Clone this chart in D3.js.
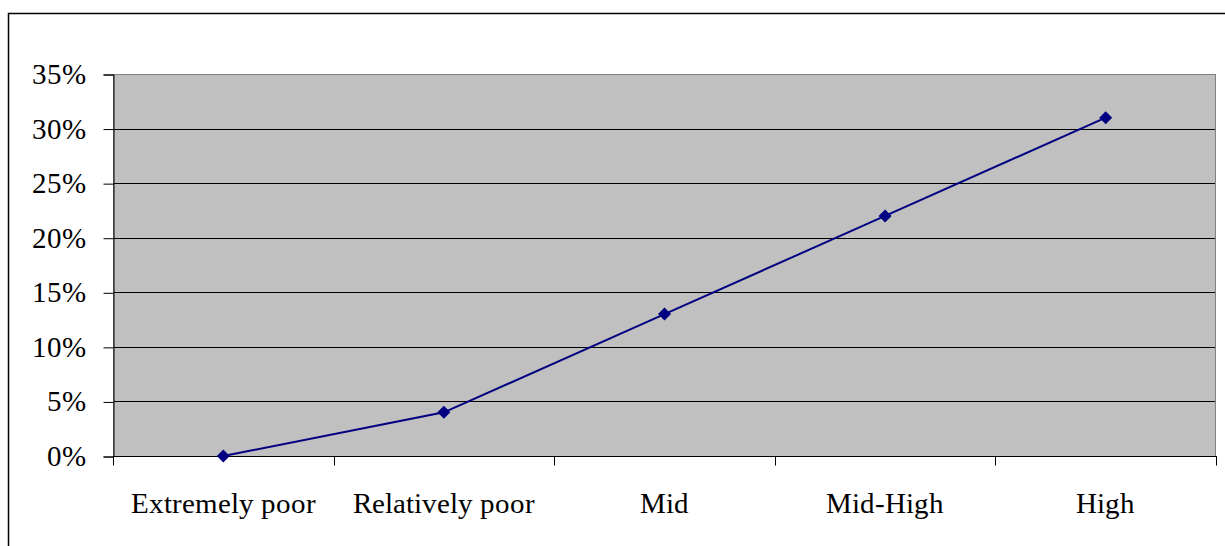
<!DOCTYPE html>
<html><head><meta charset="utf-8"><script src="https://cdn.jsdelivr.net/npm/d3@7"></script>
<style>
  @font-face { font-family: "ChartSerif"; src: local("Liberation Serif"), local("LiberationSerif"), local("Liberation Serif Regular"), local("LiberationSerif-Regular"), local("Times New Roman"), local("Tinos"); }
</style>
</head>
<body style="margin:0">
<svg id="chart" width="1225" height="546" font-family="Liberation Serif, Times New Roman, Tinos, FreeSerif, serif" font-size="29"></svg>
<script>
// Income categories along the horizontal axis
const categories = ["Extremely poor", "Relatively poor", "Mid", "Mid-High", "High"];
// Share for each category (fraction)
const shares = [0.00, 0.04, 0.13, 0.22, 0.31];
// Vertical axis ticks
const yTicks = [0, 0.05, 0.10, 0.15, 0.20, 0.25, 0.30, 0.35];

const svg = d3.select("#chart");
const W = 1225, H = 546;

// Outer chart frame (runs off the right and bottom edges)
svg.append("rect")
  .attr("x", 8.5).attr("y", 13.5)
  .attr("width", W + 10).attr("height", H + 10)
  .attr("fill", "#fff").attr("stroke", "#000").attr("stroke-width", 1.5);

const plot = { left: 113, top: 74, right: 1216, bottom: 456 };

const x = d3.scaleBand().domain(categories).range([plot.left, plot.right]);
const y = d3.scaleLinear().domain([0, 0.35]).range([plot.bottom, plot.top]);

// Plot area background
svg.append("rect")
  .attr("x", plot.left).attr("y", plot.top)
  .attr("width", plot.right - plot.left).attr("height", plot.bottom - plot.top)
  .attr("fill", "#c0c0c0");

// Horizontal gridlines
svg.append("g").selectAll("line")
  .data(yTicks.filter(t => t > 0 && t < 0.35))
  .join("line")
  .attr("x1", plot.left).attr("x2", plot.right)
  .attr("y1", d => Math.round(y(d)) + 0.5).attr("y2", d => Math.round(y(d)) + 0.5)
  .attr("stroke", "#000").attr("stroke-width", 1);

// Plot area border
svg.append("rect")
  .attr("x", plot.left + 0.5).attr("y", plot.top + 0.5)
  .attr("width", plot.right - plot.left - 1).attr("height", plot.bottom - plot.top)
  .attr("fill", "none").attr("stroke", "#808080").attr("stroke-width", 1);

// Y axis line and tick marks
const gy = svg.append("g")
  .attr("transform", `translate(${plot.left + 0.5},0.5)`)
  .call(d3.axisLeft(y).tickValues(yTicks).tickSize(10).tickFormat(() => ""));
gy.attr("font-family", null).attr("font-size", null);
gy.selectAll(".tick text").remove();
gy.select(".domain").attr("stroke", "#000");
gy.selectAll(".tick line").attr("stroke", "#000");

// Serif face for all chart text
const FONT = 'ChartSerif, "Liberation Serif", "Times New Roman", Tinos, FreeSerif, serif';

// Y tick labels at the scale positions
const pct = d3.format(".0%");
svg.selectAll("text.ylab")
  .data(yTicks)
  .join("text")
  .attr("class", "ylab")
  .attr("x", 86)
  .attr("y", d => y(d) + 10)
  .attr("text-anchor", "end")
  .attr("font-family", "Liberation Serif")
  .style("font-family", FONT).style("font-size", "29px")
  .text(d => pct(d));

// X axis line and tick marks at category boundaries
const boundaries = categories.map(c => x(c)).concat([plot.right]);
svg.append("line")
  .attr("x1", plot.left).attr("x2", plot.right)
  .attr("y1", plot.bottom + 0.5).attr("y2", plot.bottom + 0.5)
  .attr("stroke", "#000");
svg.selectAll("line.xtick")
  .data(boundaries)
  .join("line").attr("class", "xtick")
  .attr("x1", d => Math.round(d) + 0.5).attr("x2", d => Math.round(d) + 0.5)
  .attr("y1", plot.bottom).attr("y2", plot.bottom + 9.5)
  .attr("stroke", "#000");

// Category labels centred in each band
svg.selectAll("text.xlab")
  .data(categories)
  .join("text")
  .attr("class", "xlab")
  .attr("x", d => x(d) + x.bandwidth() / 2)
  .attr("y", 513)
  .attr("text-anchor", "middle")
  .attr("font-family", "Liberation Serif")
  .style("font-family", FONT).style("font-size", "29px")
  .text(d => d);

// Series line
const pts = categories.map((c, i) => [x(c) + x.bandwidth() / 2, y(shares[i])]);
svg.append("path")
  .datum(pts)
  .attr("d", d3.line())
  .attr("fill", "none")
  .attr("stroke", "#000080")
  .attr("stroke-width", 2);

// Diamond markers
svg.append("g").selectAll("path")
  .data(pts)
  .join("path")
  .attr("transform", d => `translate(${d[0]},${d[1]}) rotate(45)`)
  .attr("d", "M-4.6,-4.6H4.6V4.6H-4.6Z")
  .attr("fill", "#000080");
</script>
</body>
</html>
